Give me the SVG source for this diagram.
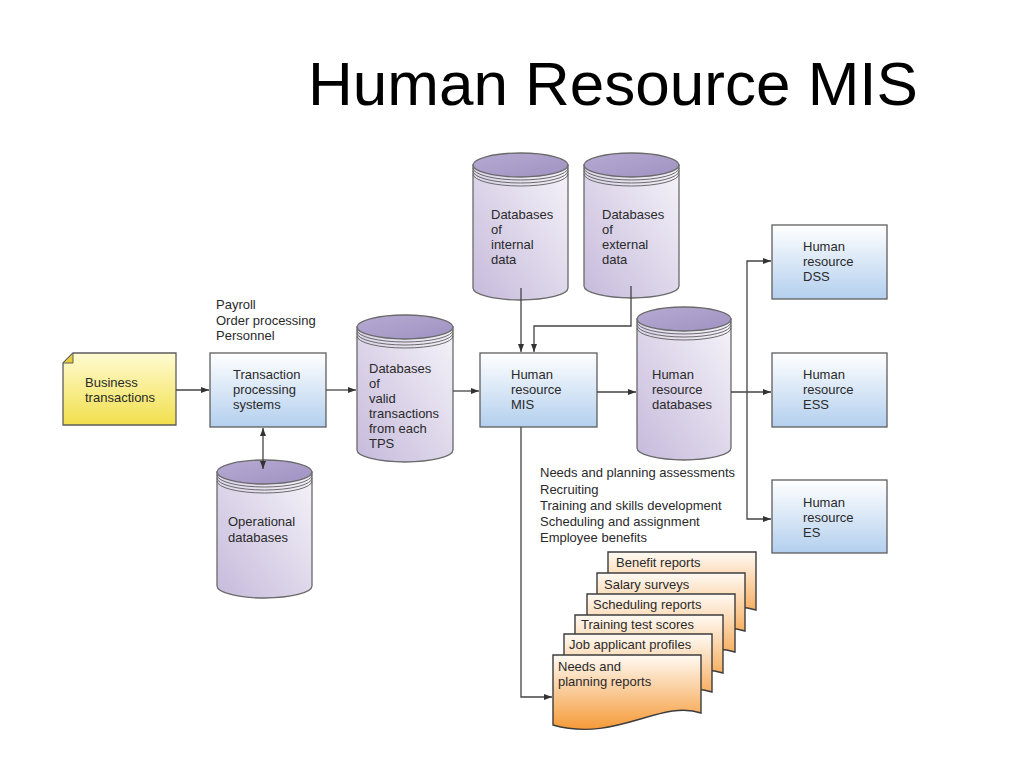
<svg xmlns="http://www.w3.org/2000/svg" width="1024" height="768" viewBox="0 0 1024 768">
<defs>
<linearGradient id="gBlue" x1="0" y1="0" x2="0" y2="1"><stop offset="0" stop-color="#ffffff"/><stop offset="1" stop-color="#b3cfee"/></linearGradient>
<linearGradient id="gYellow" x1="0" y1="0" x2="0" y2="1"><stop offset="0" stop-color="#fffbd2"/><stop offset="1" stop-color="#f1df4c"/></linearGradient>
<linearGradient id="gOrange" x1="0" y1="0" x2="0" y2="1"><stop offset="0" stop-color="#fffaf4"/><stop offset="1" stop-color="#f59a38"/></linearGradient>
<linearGradient id="gCyl" x1="0" y1="1" x2="1" y2="0"><stop offset="0" stop-color="#c6badb"/><stop offset="1" stop-color="#f5f3f9"/></linearGradient>
<linearGradient id="gTop" x1="0" y1="0" x2="1" y2="1"><stop offset="0" stop-color="#b6aad2"/><stop offset="1" stop-color="#a092c2"/></linearGradient>
<marker id="ah" markerWidth="8" markerHeight="6" refX="8" refY="3" orient="auto" markerUnits="userSpaceOnUse"><path d="M0,0 L8,3 L0,6 z" fill="#333"/></marker>
<marker id="ahs" markerWidth="8" markerHeight="6" refX="0" refY="3" orient="auto" markerUnits="userSpaceOnUse"><path d="M8,0 L0,3 L8,6 z" fill="#333"/></marker>
<path id="doc" d="M0,0 H148 V58 C108,44 62,88 0,70 Z"/>
</defs>
<style>
text{font-family:"Liberation Sans",Arial,sans-serif;fill:#2a2a2a;font-size:13px}
.title{font-size:62px;fill:#000}
.box{fill:url(#gBlue);stroke:#5e5e5e;stroke-width:1.3}
.cyl{fill:url(#gCyl);stroke:#6a6a6a;stroke-width:1.3}
.ctop{fill:url(#gTop);stroke:#6a6a6a;stroke-width:1.3}
.ring{fill:none;stroke:#6a6a6a;stroke-width:1}
.doc{fill:url(#gOrange);stroke:#3c3c3c;stroke-width:1.4}
.con{fill:none;stroke:#444;stroke-width:1.3}
</style>
<rect width="1024" height="768" fill="#ffffff"/>
<text class="title" x="308" y="105">Human Resource MIS</text>

<g id="business">
<path d="M73,353 H176 V425 H63 V363 Z" fill="url(#gYellow)" stroke="#5e5e5e" stroke-width="1.3"/>
<path d="M63,363 L73,353 L73,363 Z" fill="#e2cc3a" stroke="#5e5e5e" stroke-width="1"/>
<text x="85" y="387">Business</text>
<text x="85" y="402">transactions</text>
</g>

<g id="tps">
<text x="216" y="309">Payroll</text>
<text x="216" y="325">Order processing</text>
<text x="216" y="340">Personnel</text>
<rect class="box" x="210" y="353" width="116" height="74"/>
<text x="233" y="379">Transaction</text>
<text x="233" y="394">processing</text>
<text x="233" y="409">systems</text>
</g>

<g id="db-valid">
<path class="cyl" d="M357,327 V450 A48,12 0 0 0 453,450 V327 Z"/>
<ellipse class="ctop" cx="405" cy="327" rx="48" ry="12"/>
<path class="ring" d="M357,330 A48,12 0 0 0 453,330 M357,333 A48,12 0 0 0 453,333 M357,336 A48,12 0 0 0 453,336"/>
<text x="369" y="373">Databases</text>
<text x="369" y="388">of</text>
<text x="369" y="403">valid</text>
<text x="369" y="418">transactions</text>
<text x="369" y="433">from each</text>
<text x="369" y="448">TPS</text>
</g>

<g id="db-operational">
<path class="cyl" d="M217,472 V586 A47.5,12 0 0 0 312,586 V472 Z"/>
<ellipse class="ctop" cx="264.5" cy="472" rx="47.5" ry="12"/>
<path class="ring" d="M217,475 A47.5,12 0 0 0 312,475 M217,478 A47.5,12 0 0 0 312,478 M217,481 A47.5,12 0 0 0 312,481"/>
<text x="228" y="526">Operational</text>
<text x="228" y="542">databases</text>
</g>

<g id="db-internal">
<path class="cyl" d="M473,165 V288 A47.5,12 0 0 0 568,288 V165 Z"/>
<ellipse class="ctop" cx="520.5" cy="165" rx="47.5" ry="12"/>
<path class="ring" d="M473,168 A47.5,12 0 0 0 568,168 M473,171 A47.5,12 0 0 0 568,171 M473,174 A47.5,12 0 0 0 568,174"/>
<text x="491" y="219">Databases</text>
<text x="491" y="234">of</text>
<text x="491" y="249">internal</text>
<text x="491" y="264">data</text>
</g>

<g id="db-external">
<path class="cyl" d="M584,165 V286 A47.5,12 0 0 0 679,286 V165 Z"/>
<ellipse class="ctop" cx="631.5" cy="165" rx="47.5" ry="12"/>
<path class="ring" d="M584,168 A47.5,12 0 0 0 679,168 M584,171 A47.5,12 0 0 0 679,171 M584,174 A47.5,12 0 0 0 679,174"/>
<text x="602" y="219">Databases</text>
<text x="602" y="234">of</text>
<text x="602" y="249">external</text>
<text x="602" y="264">data</text>
</g>

<g id="hr-mis">
<rect class="box" x="480" y="353" width="117" height="74"/>
<text x="511" y="379">Human</text>
<text x="511" y="394">resource</text>
<text x="511" y="409">MIS</text>
</g>

<g id="db-hr">
<path class="cyl" d="M637,319 V448 A47,12 0 0 0 731,448 V319 Z"/>
<ellipse class="ctop" cx="684" cy="319" rx="47" ry="12"/>
<path class="ring" d="M637,322 A47,12 0 0 0 731,322 M637,325 A47,12 0 0 0 731,325 M637,328 A47,12 0 0 0 731,328"/>
<text x="652" y="379">Human</text>
<text x="652" y="394">resource</text>
<text x="652" y="409">databases</text>
</g>

<g id="hr-dss">
<rect class="box" x="772" y="225" width="115" height="74"/>
<text x="803" y="251">Human</text>
<text x="803" y="266">resource</text>
<text x="803" y="281">DSS</text>
</g>
<g id="hr-ess">
<rect class="box" x="772" y="353" width="115" height="74"/>
<text x="803" y="379">Human</text>
<text x="803" y="394">resource</text>
<text x="803" y="409">ESS</text>
</g>
<g id="hr-es">
<rect class="box" x="772" y="480" width="115" height="73"/>
<text x="803" y="507">Human</text>
<text x="803" y="522">resource</text>
<text x="803" y="537">ES</text>
</g>

<g id="activities">
<text x="540" y="477">Needs and planning assessments</text>
<text x="540" y="494">Recruiting</text>
<text x="540" y="510">Training and skills development</text>
<text x="540" y="526">Scheduling and assignment</text>
<text x="540" y="542">Employee benefits</text>
</g>

<g id="reports">
<g id="rep-benefit" transform="translate(608,552)"><use href="#doc" class="doc"/><text x="8" y="15">Benefit reports</text></g>
<g id="rep-salary" transform="translate(597,573)"><use href="#doc" class="doc"/><text x="7" y="16">Salary surveys</text></g>
<g id="rep-scheduling" transform="translate(587,594)"><use href="#doc" class="doc"/><text x="6" y="15">Scheduling reports</text></g>
<g id="rep-training" transform="translate(575,615)"><use href="#doc" class="doc"/><text x="6" y="14">Training test scores</text></g>
<g id="rep-job" transform="translate(564,634)"><use href="#doc" class="doc"/><text x="5" y="15">Job applicant profiles</text></g>
<g id="rep-needs" transform="translate(553,655)"><use href="#doc" class="doc"/><text x="5" y="16">Needs and</text><text x="5" y="31">planning reports</text></g>
</g>

<g id="connectors">
<path class="con" d="M176,390 H209" marker-end="url(#ah)"/>
<path class="con" d="M326,390 H356" marker-end="url(#ah)"/>
<path class="con" d="M453,391 H479" marker-end="url(#ah)"/>
<path class="con" d="M597,392 H636" marker-end="url(#ah)"/>
<path class="con" d="M263,428 V469" marker-start="url(#ahs)" marker-end="url(#ah)"/>
<path class="con" d="M521,288 V352" marker-end="url(#ah)"/>
<path class="con" d="M631,286 V326 H534 V352" marker-end="url(#ah)"/>
<path class="con" d="M731,392 H771" marker-end="url(#ah)"/>
<path class="con" d="M747,392 V261 H771" marker-end="url(#ah)"/>
<path class="con" d="M747,392 V519 H771" marker-end="url(#ah)"/>
<path class="con" d="M521,427 V697 H552" marker-end="url(#ah)"/>
</g>
</svg>
